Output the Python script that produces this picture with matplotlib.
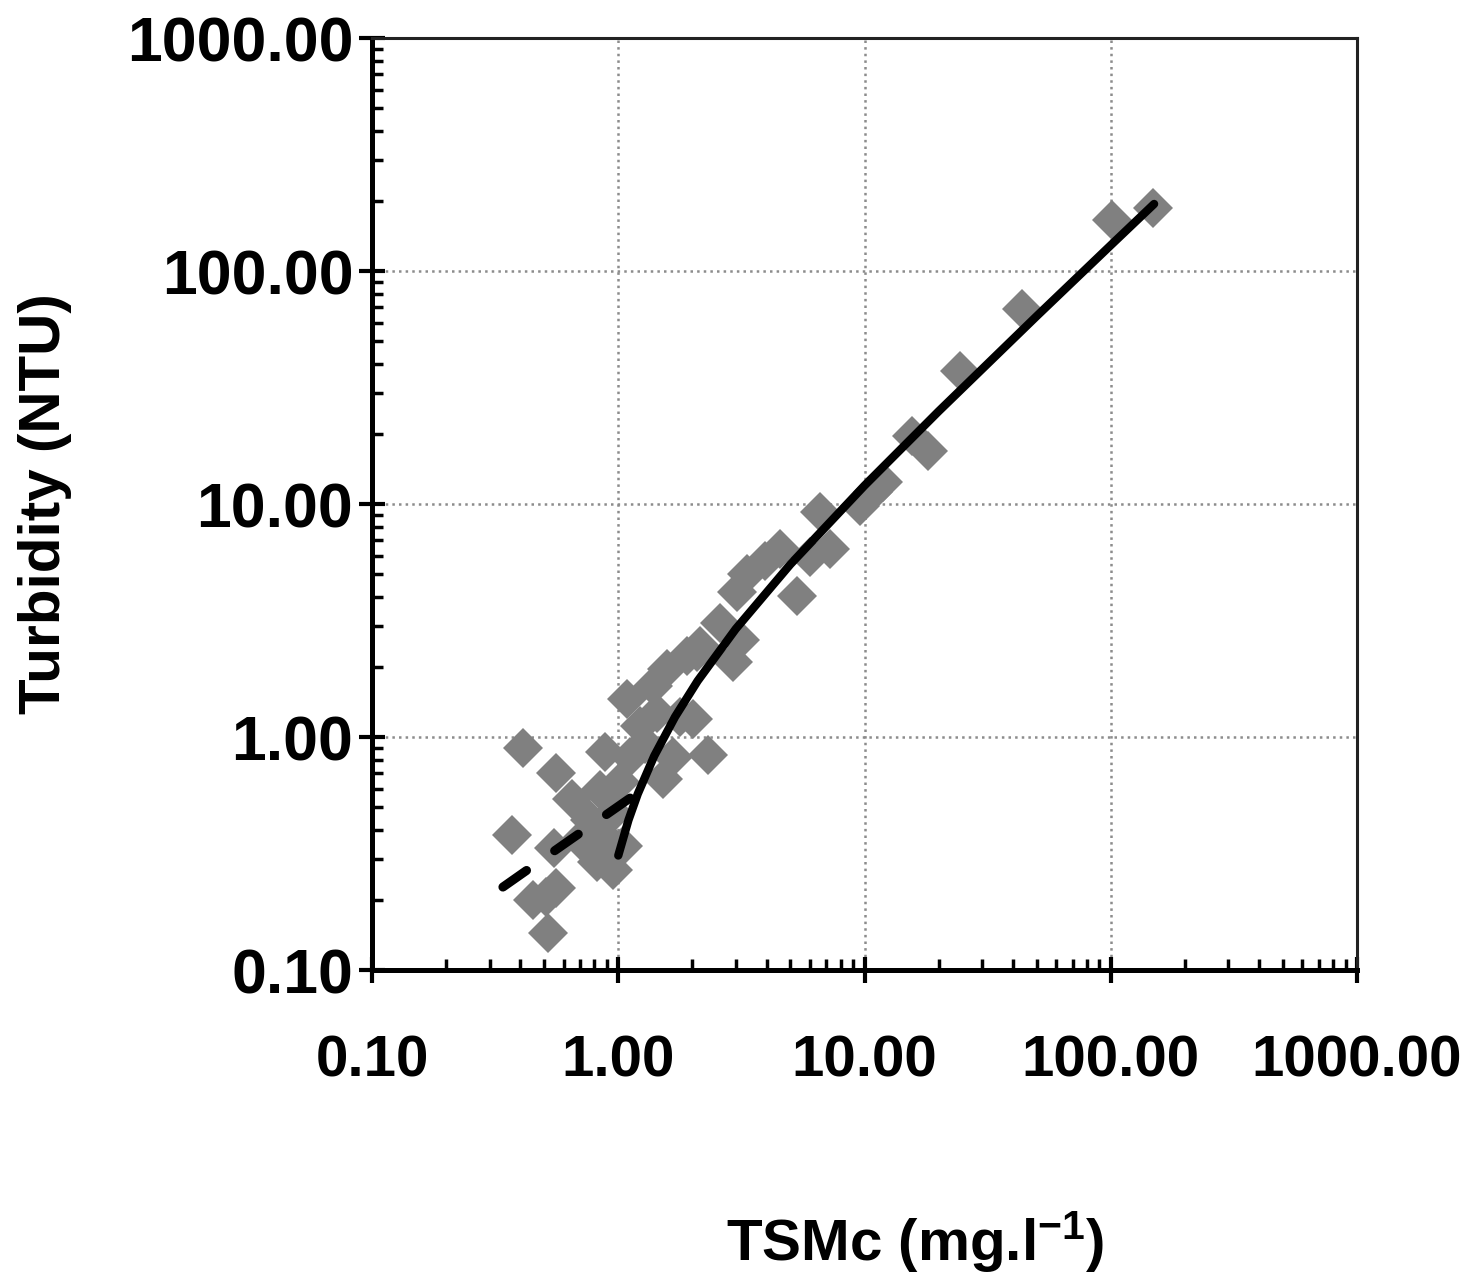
import matplotlib
matplotlib.use("Agg")
import matplotlib.pyplot as plt
import matplotlib.ticker as ticker

plt.rcParams["font.family"] = ["Liberation Sans", "DejaVu Sans"]
plt.rcParams["font.weight"] = "bold"
plt.rcParams["mathtext.fontset"] = "custom"
plt.rcParams["mathtext.rm"] = "Liberation Sans:bold"
plt.rcParams["mathtext.bf"] = "Liberation Sans:bold"
plt.rcParams["mathtext.default"] = "bf"

# measured samples: TSMc (mg/l) vs turbidity (NTU)
tsm = [0.41, 0.56, 0.88, 0.37, 0.55, 0.51, 0.56, 0.52, 0.45, 0.65,
       0.77, 0.70, 0.82, 0.95, 0.90, 1.05, 0.95, 1.02, 1.12, 1.22,
       1.09, 1.38, 1.58, 1.90, 1.44, 1.78, 1.67, 1.52, 2.01, 2.92,
       2.31, 2.08, 1.28, 0.84, 0.79, 2.59, 2.15, 3.33, 3.03, 5.32,
       4.54, 7.24, 6.60, 3.12, 9.60, 10.8, 11.9, 3.94, 6.00, 15.6,
       18.1, 24.4, 43.6, 101.0, 148.0]
turb = [0.90, 0.70, 0.86, 0.38, 0.335, 0.206, 0.225, 0.144, 0.20, 0.54,
        0.44, 0.36, 0.29, 0.27, 0.36, 0.34, 0.47, 0.64, 0.82, 1.11,
        1.45, 1.65, 1.95, 2.22, 1.27, 1.22, 0.82, 0.66, 1.19, 2.09,
        0.84, 2.31, 0.93, 0.59, 0.33, 3.10, 2.45, 5.00, 4.19, 4.02,
        6.40, 6.40, 9.25, 2.62, 9.80, 11.3, 12.4, 5.70, 5.90, 19.6,
        16.9, 37.3, 69.0, 165.0, 187.0]

# fitted curves
fit_x = [1.0, 1.1, 1.2, 1.4, 1.7, 2.1, 3.0, 5.0, 10.0, 20.0, 50.0, 100.0, 150.0]
fit_y = [0.31, 0.44, 0.57, 0.83, 1.22, 1.74, 2.91, 5.51, 12.0, 25.0, 64.0, 129.0, 194.0]
low_x = [0.34, 0.60, 1.17]
low_y = [0.227, 0.346, 0.566]

major_ticks = [0.1, 1, 10, 100, 1000]

fig = plt.figure(figsize=(14.67, 12.76), dpi=100)
ax = fig.add_axes([0.2536, 0.2398, 0.6714, 0.7304])

ax.plot(tsm, turb, linestyle="none", marker="D", markersize=20,
        color="#808080", markeredgewidth=0, zorder=2)
ax.plot(fit_x, fit_y, color="black", linewidth=6, zorder=3,
        solid_capstyle="round")
ax.plot(low_x, low_y, color="black", linewidth=6.5, zorder=3,
        linestyle=(0, (3.2, 3.8)), dash_capstyle="round")

ax.set_xscale("log")
ax.set_yscale("log")
ax.set_xlim(0.1, 1000)
ax.set_ylim(0.1, 1000)

fmt = ticker.FuncFormatter(lambda v, p: f"{v:.2f}")
for axis in (ax.xaxis, ax.yaxis):
    axis.set_major_locator(ticker.FixedLocator(major_ticks))
    axis.set_minor_locator(ticker.LogLocator(base=10, subs=range(2, 10)))
    axis.set_major_formatter(fmt)
    axis.set_minor_formatter(ticker.NullFormatter())

ax.tick_params(which="major", direction="inout", length=19, width=3,
               color="black")
ax.tick_params(axis="x", which="major", pad=37, labelsize=42)
ax.tick_params(axis="y", which="major", pad=4, labelsize=45)
ax.tick_params(which="minor", direction="in", length=8, width=2.5, color="black")
ax.tick_params(top=False, right=False, which="both")

ax.grid(which="major", linestyle=":", linewidth=1.8, color="#8c8c8c")
ax.set_axisbelow(True)

for side in ("left", "bottom"):
    ax.spines[side].set_linewidth(3.6)
    ax.spines[side].set_color("black")
for side in ("top", "right"):
    ax.spines[side].set_linewidth(2.2)
    ax.spines[side].set_color("#222222")

ax.set_xlabel(r"TSMc (mg.l$^{-1}$)", fontsize=42, fontweight="bold")
ax.set_ylabel("Turbidity (NTU)", fontsize=42, fontweight="bold")
ax.xaxis.set_label_coords(0.551, -0.256)
ax.yaxis.set_label_coords(-0.305, 0.5)

fig.savefig("out.png", dpi=100)
